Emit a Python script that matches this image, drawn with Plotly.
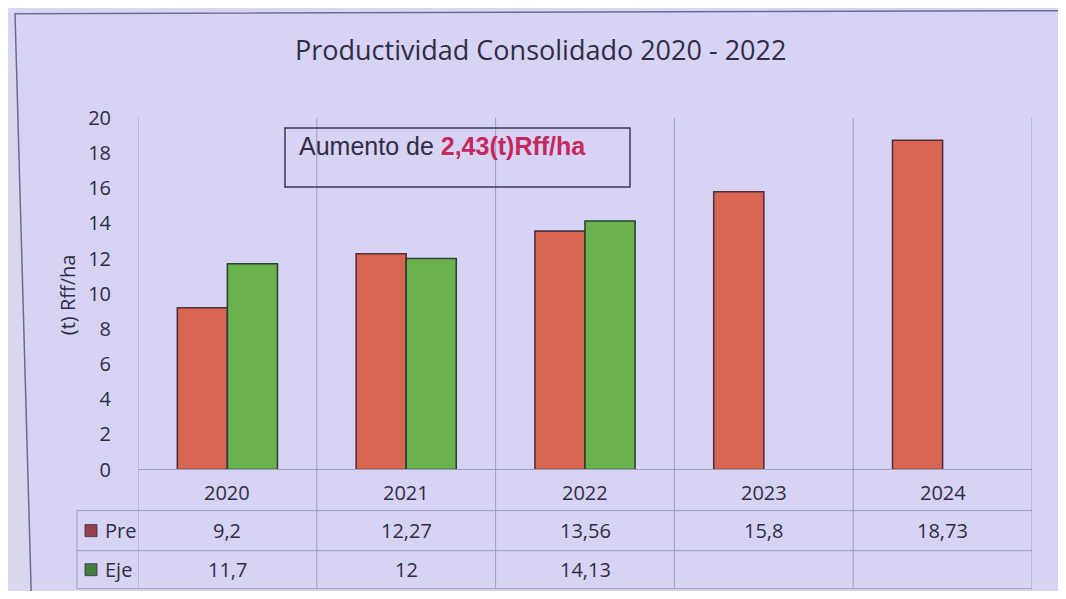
import plotly.graph_objects as go

# ---- data ----
years = ["2020", "2021", "2022", "2023", "2024"]
pre = [9.2, 12.27, 13.56, 15.8, 18.73]
eje = [11.7, 12, 14.13, None, None]
pre_labels = ["9,2", "12,27", "13,56", "15,8", "18,73"]
eje_labels = ["11,7", "12", "14,13", "", ""]
y_ticks = list(range(0, 21, 2))
series_names = ["Pre", "Eje"]
title = "Productividad Consolidado 2020 - 2022"
y_title = "(t) Rff/ha"
note_plain = "Aumento de "
note_bold = "2,43(t)Rff/ha"

# figure sized so the page (with the 8px body margin) fits the 1066x599 window
W, H = 1050, 583
OFF_X = 8
PAPER_TOP, PAPER_H = 22.3, 555.0   # measured on-screen extent of the paper area


def fx(t):  # window pixel x -> paper fraction
    return (t - OFF_X) / W


def fy(t):  # window pixel y -> paper fraction
    return 1 - (t - PAPER_TOP) / PAPER_H


X0, X1 = 138, 1032
Y0, Y20 = 469, 118
RED = "#d76753"
GREEN = "#6ab24d"
TXT = "#2f2d45"
GRID = "#9e9cc0"
FONT = "Open Sans"

fig = go.Figure()
fig.add_bar(x=years, y=pre, name=series_names[0],
            marker=dict(color=RED, line=dict(color="#55303c", width=1.6)))
fig.add_bar(x=years, y=eje, name=series_names[1],
            marker=dict(color=GREEN, line=dict(color="#2c4232", width=1.6)))

shapes = []
# chart frame (slightly skewed like the photographed slide)
shapes.append(dict(type="path", xref="paper", yref="paper", layer="below",
                   path=f"M {fx(15)} {fy(14)} L {fx(1080)} {fy(11)} L {fx(1080)} {fy(620)} L {fx(32)} {fy(620)} Z",
                   fillcolor="#d6d3f4", line=dict(color="#6e6c8e", width=1.5)))
# vertical category separators
for i in range(len(years) + 1):
    shapes.append(dict(type="line", xref="x", yref="paper", layer="below",
                       x0=-0.5 + i, x1=-0.5 + i, y0=fy(588), y1=fy(Y20),
                       line=dict(color=GRID, width=1)))
# table top (axis line)
shapes.append(dict(type="line", xref="paper", yref="paper",
                   x0=fx(X0), x1=fx(X1), y0=fy(Y0), y1=fy(Y0),
                   line=dict(color=GRID, width=1)))
for yy in (510, 550, 588):
    shapes.append(dict(type="line", xref="paper", yref="paper",
                       x0=fx(77), x1=fx(X1), y0=fy(yy), y1=fy(yy),
                       line=dict(color=GRID, width=1)))
shapes.append(dict(type="line", xref="paper", yref="paper",
                   x0=fx(77), x1=fx(77), y0=fy(510), y1=fy(588),
                   line=dict(color=GRID, width=1)))
# note box
shapes.append(dict(type="rect", xref="paper", yref="paper",
                   x0=fx(285), x1=fx(630), y0=fy(187), y1=fy(128),
                   line=dict(color="#3a3a4c", width=1.5)))
# legend keys in table
for col, yy in (("#96404f", 530), ("#437c40", 569)):
    shapes.append(dict(type="rect", xref="paper", yref="paper",
                       x0=fx(85), x1=fx(97), y0=fy(yy + 6), y1=fy(yy - 6),
                       fillcolor=col, line=dict(color="#3a3040", width=0.8)))

ann = []
ann.append(dict(text=title, x=fx(540), y=fy(50), xref="paper", yref="paper",
                xanchor="center", yanchor="middle", showarrow=False,
                font=dict(size=27, color=TXT, family=FONT)))
ann.append(dict(text=y_title, x=fx(67), y=fy(295), xref="paper", yref="paper",
                xanchor="center", yanchor="middle", showarrow=False, textangle=-90,
                font=dict(size=20, color=TXT, family=FONT)))
ann.append(dict(text=note_plain + "<b><span style='color:#c4285c'>" + note_bold + "</span></b>",
                x=fx(297), y=fy(146), xref="paper", yref="paper", xanchor="left", yanchor="middle",
                showarrow=False, font=dict(size=25, color=TXT, family="Liberation Sans")))
for i, yr in enumerate(years):
    ann.append(dict(text=yr, x=i, y=fy(492), xref="x", yref="paper", yanchor="middle",
                    showarrow=False, font=dict(size=20, color=TXT, family=FONT)))
    ann.append(dict(text=pre_labels[i], x=i, y=fy(530), xref="x", yref="paper", yanchor="middle",
                    showarrow=False, font=dict(size=20, color=TXT, family=FONT)))
    if eje_labels[i]:
        ann.append(dict(text=eje_labels[i], x=i, y=fy(569), xref="x", yref="paper", yanchor="middle",
                        showarrow=False, font=dict(size=20, color=TXT, family=FONT)))
for name, yy in ((series_names[0], 530), (series_names[1], 569)):
    ann.append(dict(text=name, x=fx(103), y=fy(yy), xref="paper", yref="paper",
                    xanchor="left", yanchor="middle", showarrow=False,
                    font=dict(size=20, color=TXT, family=FONT)))

fig.update_layout(
    width=W, height=H, margin=dict(l=0, r=0, t=0, b=0),
    paper_bgcolor="#d9d7f0", plot_bgcolor="rgba(0,0,0,0)",
    barmode="group", bargap=0.44, bargroupgap=0, showlegend=False,
    xaxis=dict(type="category", domain=[fx(X0), fx(X1)], range=[-0.5, 4.5],
               showticklabels=False, showgrid=False, zeroline=False, ticks=""),
    yaxis=dict(domain=[fy(Y0), fy(Y20)], range=[0, 20], tickvals=y_ticks,
               showgrid=False, zeroline=False, showline=False, ticks="",
               ticklabelstandoff=26,
               tickfont=dict(size=20, color=TXT, family=FONT)),
    font=dict(family=FONT, color=TXT),
    shapes=shapes, annotations=ann,
)

fig.write_html("out.html")
